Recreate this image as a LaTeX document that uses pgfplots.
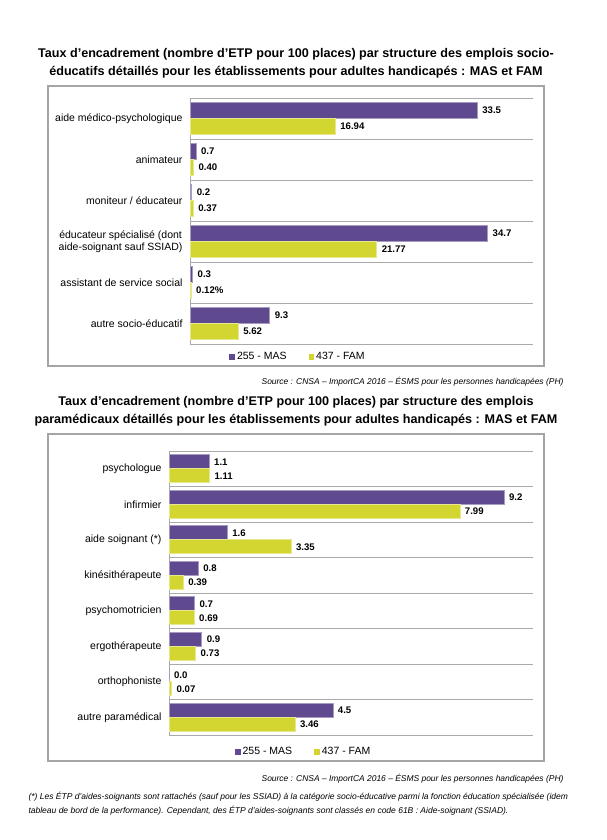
\documentclass[border=0pt]{standalone}
\usepackage{fontspec}
\setmainfont{Liberation Sans}
\usepackage{pgfplots}
\pgfplotsset{compat=1.18}

\definecolor{mas}{RGB}{96,74,143}
\definecolor{fam}{RGB}{211,214,48}
\definecolor{cadre}{RGB}{165,165,165}
\definecolor{grille}{RGB}{170,170,170}

\pgfplotsset{
  etp/.style={
    xbar,
    scale only axis,
    anchor=south west,
    y dir=reverse,
    xmin=0,
    axis line style={draw=none},
    xtick=\empty,
    major tick length=0pt,
    minor tick length=0pt,
    yminorgrids=true,
    minor grid style={grille, line width=0.9pt},
    extra x ticks={0},
    extra x tick labels={},
    extra x tick style={xmajorgrids=true, major grid style={grille, line width=0.9pt}},
    yticklabel style={font=\fontsize{10.5}{12}\selectfont, align=center, xshift=-4pt},
    point meta=explicit symbolic,
    nodes near coords={\pgfplotspointmeta},
    nodes near coords style={anchor=west, font=\bfseries\fontsize{9.6}{10}\selectfont, black, xshift=1.5pt},
    legend columns=2,
    legend style={draw=none, fill=none, anchor=center,
      font=\fontsize{10.5}{12}\selectfont,
      /tikz/every even column/.append style={column sep=20pt}},
    legend image code/.code={\path[##1, draw=none] (0pt,-2.8pt) rectangle (5.6pt,2.8pt);},
    clip=false,
  },
  serie mas/.style={fill=mas, draw=mas!55!white, line width=0.6pt},
  serie fam/.style={fill=fam, draw=fam!55!white, line width=0.6pt},
}

\begin{document}
\begin{tikzpicture}
\path[use as bounding box] (0,0) rectangle (607pt,-840pt);

% --- premier graphique : emplois socio-educatifs ---
\node[font=\bfseries\fontsize{12.6}{14}\selectfont] at (296pt,-54pt)
  {Taux d’encadrement (nombre d’ETP pour 100 places) par structure des emplois socio-};
\node[font=\bfseries\fontsize{12.6}{14}\selectfont] at (296pt,-72pt)
  {éducatifs détaillés pour les établissements pour adultes handicapés : MAS et FAM};
\draw[cadre, line width=1.1pt] (48pt,-86pt) rectangle (544pt,-366pt);

\begin{axis}[etp,
    at={(190pt,-344pt)},
    width=343pt, height=246pt,
    xmax=40,
    ymin=-0.5, ymax=5.5,
    ytick={0,...,5},
    minor ytick={-0.5,0.5,...,5.5},
    yticklabels={aide médico-psychologique, animateur, moniteur / éducateur,
      {éducateur spécialisé (dont\\aide-soignant sauf SSIAD)},
      assistant de service social, autre socio-éducatif},
    legend style={at={(0.315,-0.053)}},
  ]
\addplot[serie mas, bar width=16pt, bar shift=8pt] coordinates {
  (33.5,0)[33.5] (0.7,1)[0.7] (0.2,2)[0.2] (34.7,3)[34.7] (0.3,4)[0.3] (9.3,5)[9.3]};
\addplot[serie fam, bar width=16pt, bar shift=-8pt] coordinates {
  (16.94,0)[16.94] (0.40,1)[0.40] (0.37,2)[0.37] (21.77,3)[21.77] (0.12,4)[0.12\%] (5.62,5)[5.62]};
\legend{255 - MAS, 437 - FAM}
\end{axis}

\node[anchor=east, font=\itshape\fontsize{8.45}{9}\selectfont] at (567pt,-382pt)
  {Source : CNSA – ImportCA 2016 – ÉSMS pour les personnes handicapées (PH)};

% --- second graphique : emplois paramedicaux ---
\node[font=\bfseries\fontsize{12.6}{14}\selectfont] at (296pt,-402pt)
  {Taux d’encadrement (nombre d’ETP pour 100 places) par structure des emplois};
\node[font=\bfseries\fontsize{12.6}{14}\selectfont] at (296pt,-420pt)
  {paramédicaux détaillés pour les établissements pour adultes handicapés : MAS et FAM};
\draw[cadre, line width=1.1pt] (48pt,-434pt) rectangle (544pt,-761pt);

\begin{axis}[etp,
    at={(169pt,-735pt)},
    width=364pt, height=284pt,
    xmax=10,
    ymin=-0.5, ymax=7.5,
    ytick={0,...,7},
    minor ytick={-0.5,0.5,...,7.5},
    yticklabels={psychologue, infirmier, aide soignant (*), kinésithérapeute,
      psychomotricien, ergothérapeute, orthophoniste, autre paramédical},
    legend style={at={(0.37,-0.06)}},
  ]
\addplot[serie mas, bar width=14pt, bar shift=7pt] coordinates {
  (1.1,0)[1.1] (9.2,1)[9.2] (1.6,2)[1.6] (0.8,3)[0.8] (0.7,4)[0.7] (0.9,5)[0.9] (0.0,6)[0.0] (4.5,7)[4.5]};
\addplot[serie fam, bar width=14pt, bar shift=-7pt] coordinates {
  (1.11,0)[1.11] (7.99,1)[7.99] (3.35,2)[3.35] (0.39,3)[0.39] (0.69,4)[0.69] (0.73,5)[0.73] (0.07,6)[0.07] (3.46,7)[3.46]};
\legend{255 - MAS, 437 - FAM}
\end{axis}

\node[anchor=east, font=\itshape\fontsize{8.45}{9}\selectfont] at (567pt,-779pt)
  {Source : CNSA – ImportCA 2016 – ÉSMS pour les personnes handicapées (PH)};
\node[anchor=west, font=\itshape\fontsize{8.5}{9}\selectfont] at (25pt,-797pt)
  {(*) Les ÉTP d'aides-soignants sont rattachés (sauf pour les SSIAD) à la catégorie socio-éducative parmi la fonction éducation spécialisée (idem};
\node[anchor=west, font=\itshape\fontsize{8.5}{9}\selectfont] at (25pt,-811pt)
  {tableau de bord de la performance). Cependant, des ÉTP d'aides-soignants sont classés en code 61B : Aide-soignant (SSIAD).};
\end{tikzpicture}
\end{document}
